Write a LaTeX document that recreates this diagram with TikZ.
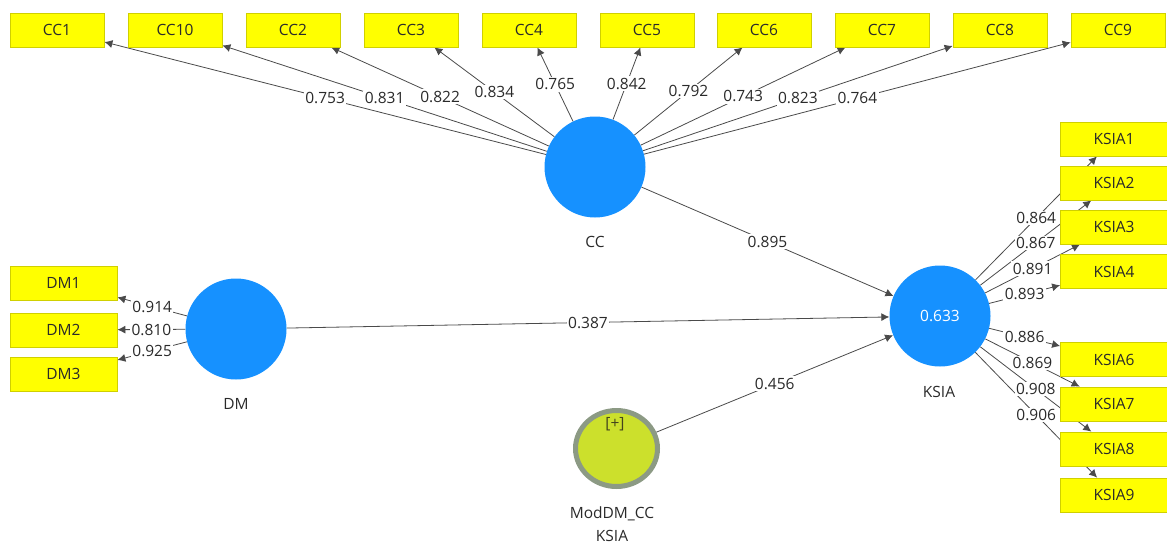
\documentclass[tikz,border=0pt]{standalone}
\usepackage{fontspec}
\setmainfont{Open Sans}
\usetikzlibrary{arrows.meta,shapes.geometric}
\pgfdeclarelayer{bg}
\pgfsetlayers{bg,main}
\definecolor{boxy}{HTML}{FFFF00}
\definecolor{boxb}{HTML}{D0D000}
\definecolor{lvblue}{HTML}{1691FF}
\definecolor{modfill}{HTML}{CCE02C}
\definecolor{modedge}{HTML}{8C9A84}
\definecolor{edgec}{HTML}{4A4A4A}
\definecolor{txt}{HTML}{2A2A2A}
\begin{document}
\begin{tikzpicture}[x=1pt,y=-1pt,
  font=\fontsize{15.5}{18}\selectfont,
  indbox/.style={rectangle, draw=boxb, fill=boxy, line width=0.8pt,
    minimum width=94pt, minimum height=34pt, inner sep=0pt, text=txt},
  dmbox/.style={indbox, minimum width=107pt},
  ksbox/.style={indbox, minimum width=107pt},
  lv/.style={circle, fill=lvblue, draw=none, minimum size=101pt, inner sep=0pt},
  modlv/.style={ellipse, fill=modfill, draw=modedge, line width=5pt,
    minimum width=82pt, minimum height=76pt, inner sep=0pt},
  lvlabel/.style={text=txt, inner sep=0pt},
  conn/.style={draw=edgec, line width=0.8pt, -{Latex[length=8pt,width=8pt]}},
  wlab/.style={fill=white, text=txt, inner sep=1.5pt, pos=0.5},
]
\useasboundingbox (0,0) rectangle (1167,543);

% latent variables
\node[lv] (CC) at (595,167) {};
\node[lv] (DM) at (236,329) {};
\node[lv, text=white] (KSIA) at (940,316) {0.633};
\node[modlv] (MOD) at (616.5,448.5) {};
\node[text=txt!70!olive, inner sep=0pt] (modplus) at (615,424) {[+]};

\node[lvlabel] (CCl) at (595,242) {CC};
\node[lvlabel] (DMl) at (236,404) {DM};
\node[lvlabel] (KSIAl) at (939,392) {KSIA};
\node[lvlabel, align=center, font=\fontsize{15.5}{23}\selectfont] (MODl) at (612,524) {ModDM\_CC\\KSIA};

% CC indicators
\node[indbox] (c1)  at (57,30)   {CC1};
\node[indbox] (c10) at (175,30)  {CC10};
\node[indbox] (c2)  at (293,30)  {CC2};
\node[indbox] (c3)  at (411,30)  {CC3};
\node[indbox] (c4)  at (529,30)  {CC4};
\node[indbox] (c5)  at (647,30)  {CC5};
\node[indbox] (c6)  at (764,30)  {CC6};
\node[indbox] (c7)  at (882,30)  {CC7};
\node[indbox] (c8)  at (1000,30) {CC8};
\node[indbox] (c9)  at (1118,30) {CC9};

% DM indicators
\node[dmbox] (d1) at (63.5,283) {DM1};
\node[dmbox] (d2) at (63.5,330) {DM2};
\node[dmbox] (d3) at (63.5,374) {DM3};

% KSIA indicators
\node[ksbox] (k1) at (1114,139) {KSIA1};
\node[ksbox] (k2) at (1114,183) {KSIA2};
\node[ksbox] (k3) at (1114,227) {KSIA3};
\node[ksbox] (k4) at (1114,271.5) {KSIA4};
\node[ksbox] (k6) at (1114,359.5) {KSIA6};
\node[ksbox] (k7) at (1114,404) {KSIA7};
\node[ksbox] (k8) at (1114,449) {KSIA8};
\node[ksbox] (k9) at (1114,495) {KSIA9};

% connectors (under everything)
\begin{pgfonlayer}{bg}
  \foreach \t in {c1,c10,c2,c3,c4,c5,c6,c7,c8,c9} {\draw[conn] (CC) -- (\t);}
  \foreach \t in {d1,d2,d3} {\draw[conn] (DM) -- (\t);}
  \foreach \t in {k1,k2,k3,k4,k6,k7,k8,k9} {\draw[conn] (KSIA) -- (\t);}
  \draw[conn] (CC) -- (KSIA);
  \draw[conn] (DM) -- (KSIA);
  \draw[conn] (MOD) -- (KSIA);
\end{pgfonlayer}

% connector labels
\path (CC) -- (c1)  node[wlab] (l1)  {0.753};
\path (CC) -- (c10) node[wlab] (l10) {0.831};
\path (CC) -- (c2)  node[wlab] (l2)  {0.822};
\path (CC) -- (c3)  node[wlab] (l3)  {0.834};
\path (CC) -- (c4)  node[wlab] (l4)  {0.765};
\path (CC) -- (c5)  node[wlab] (l5)  {0.842};
\path (CC) -- (c6)  node[wlab] (l6)  {0.792};
\path (CC) -- (c7)  node[wlab] (l7)  {0.743};
\path (CC) -- (c8)  node[wlab] (l8)  {0.823};
\path (CC) -- (c9)  node[wlab] (l9)  {0.764};

\path (DM) -- (d1) node[wlab] (ld1) {0.914};
\path (DM) -- (d2) node[wlab] (ld2) {0.810};
\path (DM) -- (d3) node[wlab] (ld3) {0.925};

\path (KSIA) -- (k1) node[wlab] (lk1) {0.864};
\path (KSIA) -- (k2) node[wlab] (lk2) {0.867};
\path (KSIA) -- (k3) node[wlab] (lk3) {0.891};
\path (KSIA) -- (k4) node[wlab] (lk4) {0.893};
\path (KSIA) -- (k6) node[wlab] (lk6) {0.886};
\path (KSIA) -- (k7) node[wlab] (lk7) {0.869};
\path (KSIA) -- (k8) node[wlab] (lk8) {0.908};
\path (KSIA) -- (k9) node[wlab] (lk9) {0.906};

\path (CC) -- (KSIA) node[wlab] (lcc) {0.895};
\path (DM) -- (KSIA) node[wlab] (ldm) {0.387};
\path (MOD) -- (KSIA) node[wlab] (lmod) {0.456};
\end{tikzpicture}
\end{document}
